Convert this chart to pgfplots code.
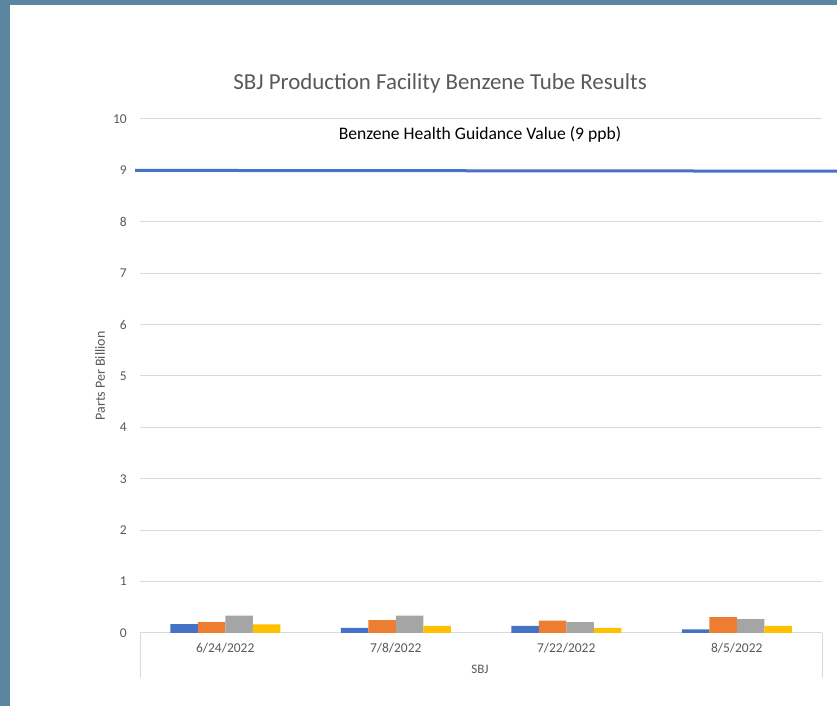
\documentclass[border=0pt]{standalone}
\usepackage{pgfplots}
\pgfplotsset{compat=1.18}
\usepackage{fontspec}
\setmainfont{Carlito}
\definecolor{frame}{HTML}{5A86A0}
\definecolor{gridgray}{HTML}{D9D9D9}
\definecolor{txtgray}{HTML}{595959}
\definecolor{cblue}{HTML}{4472C4}
\definecolor{corange}{HTML}{ED7D31}
\definecolor{cgray}{HTML}{A5A5A5}
\definecolor{cyellow}{HTML}{FFC000}
\begin{document}
\begin{tikzpicture}[x=1bp,y=1bp]
\fill[frame] (0,0) rectangle (837,706);
\fill[white] (10,0) rectangle (837,701);
\begin{axis}[
  at={(140bp,73bp)}, anchor=south west,
  scale only axis, width=682bp, height=514bp,
  xmin=-0.5, xmax=3.5, ymin=0, ymax=10,
  xtick={0,1,2,3},
  xticklabels={6/24/2022,7/8/2022,7/22/2022,8/5/2022},
  ytick={0,1,...,10},
  /pgf/number format/assume math mode=true,
  major tick length=0pt,
  ymajorgrids, major grid style={gridgray, line width=1bp},
  separate axis lines,
  x axis line style={gridgray, line width=1bp, -},
  y axis line style={draw=none},
  axis x line*=bottom, axis y line*=left,
  clip=false,
  font=\fontsize{13bp}{15bp}\selectfont,
  tick label style={txtgray, font=\fontsize{13.5bp}{16bp}\selectfont},
  yticklabel style={anchor=east, inner sep=0pt, xshift=-13bp},
  xticklabel style={anchor=north, inner sep=0pt, yshift=-10bp},
  title={SBJ Production Facility Benzene Tube Results},
  title style={at={(axis description cs:0.44,1)}, anchor=center, yshift=30bp, txtgray, font=\fontsize{22.9bp}{26bp}\selectfont},
  ylabel={Parts Per Billion},
  ylabel style={at={(axis description cs:-0.0587,0.5)}, anchor=center, txtgray, font=\fontsize{14bp}{16bp}\selectfont},
  xlabel={SBJ},
  xlabel style={at={(axis description cs:0.4985,0)}, anchor=center, yshift=-36bp, txtgray, font=\fontsize{13bp}{15bp}\selectfont},
]
\addplot[ybar, bar width=27.5bp, bar shift=-41.25bp, fill=cblue, draw=none] coordinates {(0,0.175) (1,0.10) (2,0.14) (3,0.07)};
\addplot[ybar, bar width=27.5bp, bar shift=-13.75bp, fill=corange, draw=none] coordinates {(0,0.21) (1,0.25) (2,0.24) (3,0.31)};
\addplot[ybar, bar width=27.5bp, bar shift=13.75bp, fill=cgray, draw=none] coordinates {(0,0.34) (1,0.34) (2,0.21) (3,0.27)};
\addplot[ybar, bar width=27.5bp, bar shift=41.25bp, fill=cyellow, draw=none] coordinates {(0,0.17) (1,0.14) (2,0.10) (3,0.14)};
\addplot[cblue, line width=3bp, sharp plot] coordinates {(-0.529,9) (3.588,8.985)};
\node[black, font=\fontsize{17.6bp}{20bp}\selectfont] at (axis cs:1.494,9.69) {Benzene Health Guidance Value (9 ppb)};
\draw[gridgray, line width=1bp] (axis description cs:0,0) -- ([yshift=-45bp]axis description cs:0,0);
\draw[gridgray, line width=1bp] (axis description cs:1,0) -- ([yshift=-45bp]axis description cs:1,0);
\end{axis}
\pgfresetboundingbox
\useasboundingbox (0,0) rectangle (837,706);
\end{tikzpicture}
\end{document}
